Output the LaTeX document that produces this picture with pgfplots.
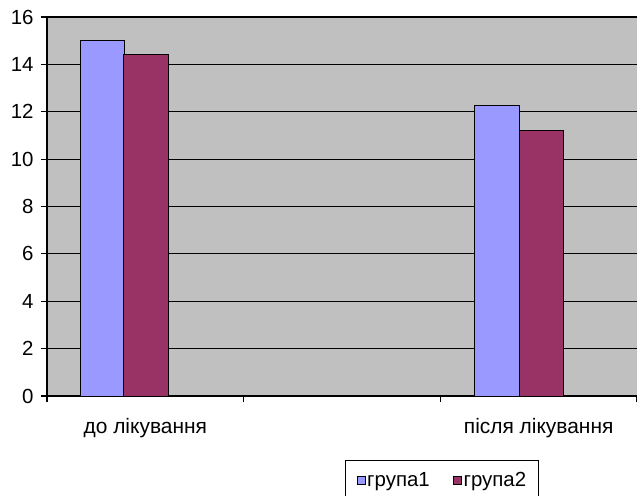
\documentclass[border=0pt]{standalone}
\usepackage{pgfplots}
\pgfplotsset{compat=1.18}
\usepackage{fontspec}
\setmainfont{Liberation Sans}
\definecolor{gA}{HTML}{9999FF}
\definecolor{gB}{HTML}{993366}
\definecolor{bg}{HTML}{C0C0C0}
\begin{document}
\begin{tikzpicture}
\begin{axis}[
  at={(0,0)}, anchor=south west,
  scale only axis, width=590bp, height=379bp,
  xmin=0, xmax=3, ymin=0, ymax=16,
  axis x line*=bottom, axis y line*=left,
  axis line style={black, line width=1.1bp, -},
  axis background/.style={fill=bg},
  ytick={0,2,...,16},
  ymajorgrids, grid style={black, line width=1.1bp},
  xtick={0,1,2,3}, xticklabels={},
  extra x ticks={0.5,2.5},
  extra x tick labels={до лікування, після лікування},
  extra x tick style={major tick length=0pt, grid=none, xticklabel style={yshift=-19bp}},
  tick align=outside,
  major tick length=6bp,
  tick style={black, line width=1.1bp},
  xticklabel style={font=\fontsize{21}{24}\selectfont},
  yticklabel style={font=\fontsize{20.5}{24}\selectfont, xshift=-4bp},
  /pgf/number format/assume math mode=true,
  legend style={at={(0.670,-0.169)}, anchor=north, draw=black, line width=1bp, fill=white,
    font=\fontsize{20.5}{24}\selectfont, legend columns=2,
    inner xsep=11bp, inner ysep=10bp, nodes={inner sep=1.5bp},
    /tikz/every even column/.append style={column sep=22bp}},
  legend image code/.code={\draw[#1, draw=black, line width=0.8bp] (0bp,-4bp) rectangle (8bp,4bp);},
]
\addplot[ybar, bar width=0.224, fill=gA, draw=black, line width=0.9bp] coordinates {(0.28,15.0) (2.288,12.25)};
\addplot[ybar, bar width=0.224, fill=gB, draw=black, line width=0.9bp] coordinates {(0.503,14.4) (2.512,11.2)};
\legend{група1, група2}
\end{axis}
\pgfresetboundingbox
\useasboundingbox (-47bp,-100bp) rectangle (590bp,396bp);
\end{tikzpicture}
\end{document}
